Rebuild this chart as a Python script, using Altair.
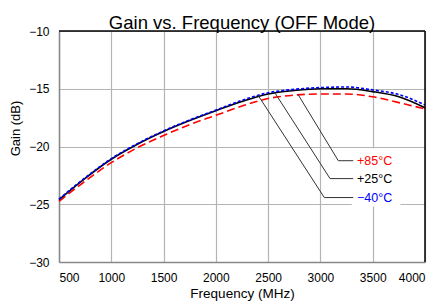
import altair as alt
import pandas as pd

# ---- data ----
freq_mhz = [500, 750, 1000, 1250, 1500, 1750, 2000, 2250, 2500, 2750, 3000, 3250, 3500, 3750, 4000]
gain_m40 = [-24.55, -22.7, -21.05, -19.75, -18.65, -17.7, -16.85, -16.0, -15.35, -15.05, -14.9, -14.85, -15.1, -15.5, -16.4]
gain_p25 = [-24.6, -22.75, -21.1, -19.8, -18.7, -17.75, -16.9, -16.1, -15.45, -15.15, -15.0, -15.0, -15.25, -15.7, -16.65]
gain_p85 = [-24.75, -23.0, -21.4, -20.1, -19.05, -18.1, -17.3, -16.5, -15.85, -15.55, -15.45, -15.45, -15.7, -16.2, -16.75]

x_ticks = [500, 1000, 1500, 2000, 2500, 3000, 3500, 4000]
y_ticks = [-30, -25, -20, -15, -10]

label_text = ["+85°C", "+25°C", "\u221240°C"]
label_color = ["#ff0000", "#000000", "#0000ff"]
label_freq = [3350, 3350, 3350]
label_gain = [-21.23, -22.78, -24.42]
leader_start_freq = [2786, 2566, 2403]
leader_start_gain = [-15.5, -15.37, -15.55]
leader_elbow_freq = [3171, 3092, 3037]
leader_end_freq = [3314, 3314, 3314]
box_freq = [3300, 3765]
box_gain = [-20.15, -25.2]

FONT = "Liberation Sans"

df = pd.DataFrame({"f": freq_mhz, "m40": gain_m40, "p25": gain_p25, "p85": gain_p85})

xs = alt.Scale(domain=[500, 4000], nice=False, zero=False)
ys = alt.Scale(domain=[-30, -10], nice=False, zero=False)

x_axis = alt.Axis(values=x_ticks, format="d", title="Frequency (MHz)", ticks=False, labelPadding=10,
                  titlePadding=3, grid=True)
y_axis = alt.Axis(values=y_ticks, format="d", title="Gain (dB)", ticks=False, labelPadding=10, grid=True,
                  titleX=-37, titleY=97)

base = alt.Chart(df)

def curve(col, color, dash):
    kw = dict(color=color, strokeWidth=1.6, interpolate="monotone")
    if dash:
        kw["strokeDash"] = dash
    return base.mark_line(**kw).encode(
        x=alt.X("f:Q", scale=xs, axis=x_axis),
        y=alt.Y(f"{col}:Q", scale=ys, axis=y_axis),
    )

red = curve("p85", "#ff0000", [8, 4])
black = curve("p25", "#000000", None)
blue = curve("m40", "#0000ff", [3, 2])

# leader lines
rows = []
for i in range(3):
    pts = [(leader_start_freq[i], leader_start_gain[i]),
           (leader_elbow_freq[i], label_gain[i]),
           (leader_end_freq[i], label_gain[i])]
    for k, (fx, gy) in enumerate(pts):
        rows.append({"id": i, "k": k, "f": fx, "g": gy})
ldf = pd.DataFrame(rows)
leaders = alt.Chart(ldf).mark_line(color="#333333", strokeWidth=1).encode(
    x=alt.X("f:Q", scale=xs),
    y=alt.Y("g:Q", scale=ys),
    detail="id:N",
    order="k:Q",
)

bdf = pd.DataFrame({"f1": [box_freq[0]], "f2": [box_freq[1]], "g1": [box_gain[0]], "g2": [box_gain[1]]})
box = alt.Chart(bdf).mark_rect(color="white").encode(
    x=alt.X("f1:Q", scale=xs), x2="f2:Q",
    y=alt.Y("g1:Q", scale=ys), y2="g2:Q",
)

tdf = pd.DataFrame({"t": label_text, "c": label_color, "f": label_freq, "g": label_gain})
labels = alt.Chart(tdf).mark_text(align="left", baseline="middle", fontSize=12.5, font=FONT).encode(
    x=alt.X("f:Q", scale=xs),
    y=alt.Y("g:Q", scale=ys),
    text="t:N",
    color=alt.Color("c:N", scale=None),
)

dummy = alt.Chart(pd.DataFrame({"a": [0]}))
right_border = dummy.mark_rule(color="black", strokeWidth=1.5).encode(
    x=alt.value(366), y=alt.value(0), y2=alt.value(231))
top_border = dummy.mark_rule(color="black", strokeWidth=1.5).encode(
    x=alt.value(0), x2=alt.value(366), y=alt.value(0))

chart = alt.layer(box, red, black, blue, leaders, labels, right_border, top_border).properties(
    width=366,
    height=231,
    autosize=alt.AutoSizeParams(type="none"),
    padding={"left": 51, "top": 23, "right": 6, "bottom": 41},
    title=alt.Title("Gain vs. Frequency (OFF Mode)", fontSize=18.5, font=FONT,
                    fontWeight="normal", color="black", anchor="middle", offset=0, dy=7),
).configure_view(stroke=None).configure_axis(
    labelFont=FONT, labelFontSize=12, labelColor="black",
    titleFont=FONT, titleFontSize=13.5, titleFontWeight="normal", titleColor="black",
    domainColor="#888888", domainWidth=1.5,
    gridColor="#b4b4b4", gridWidth=1.2,
).configure_axisY(titleFontSize=13)

chart.save("out.html", embed_options={"renderer": "svg", "actions": False})
